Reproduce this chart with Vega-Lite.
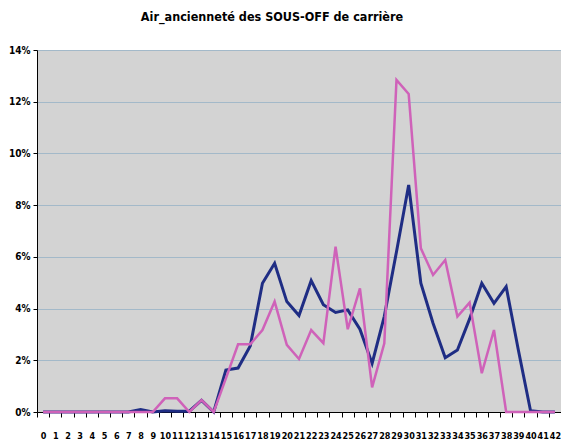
{
  "$schema": "https://vega.github.io/schema/vega-lite/v6.json",
  "width": 524,
  "height": 362,
  "autosize": {"type": "none"},
  "padding": {"left": 37, "top": 50, "right": 0, "bottom": 36},
  "background": "white",
  "title": {
    "text": "Air_ancienneté des SOUS-OFF de carrière",
    "font": "DejaVu Sans Condensed, Liberation Sans, sans-serif",
    "fontSize": 12.5,
    "fontWeight": "bold",
    "color": "#000000",
    "anchor": "middle",
    "dx": -27,
    "offset": 22
  },
  "config": {
    "view": {"fill": "#d3d3d3", "stroke": null}
  },
  "data": {
    "values": [
      {"age": 0, "navy": 0, "rose": 0},
      {"age": 1, "navy": 0, "rose": 0},
      {"age": 2, "navy": 0, "rose": 0},
      {"age": 3, "navy": 0, "rose": 0},
      {"age": 4, "navy": 0, "rose": 0},
      {"age": 5, "navy": 0, "rose": 0},
      {"age": 6, "navy": 0, "rose": 0},
      {"age": 7, "navy": 0, "rose": 0},
      {"age": 8, "navy": 0.1, "rose": 0},
      {"age": 9, "navy": 0, "rose": 0},
      {"age": 10, "navy": 0.05, "rose": 0.53},
      {"age": 11, "navy": 0.03, "rose": 0.53},
      {"age": 12, "navy": 0.03, "rose": 0},
      {"age": 13, "navy": 0.45, "rose": 0.46},
      {"age": 14, "navy": 0, "rose": 0},
      {"age": 15, "navy": 1.62, "rose": 1.3},
      {"age": 16, "navy": 1.7, "rose": 2.62},
      {"age": 17, "navy": 2.55, "rose": 2.62},
      {"age": 18, "navy": 4.98, "rose": 3.17},
      {"age": 19, "navy": 5.75, "rose": 4.27},
      {"age": 20, "navy": 4.27, "rose": 2.6},
      {"age": 21, "navy": 3.73, "rose": 2.05},
      {"age": 22, "navy": 5.08, "rose": 3.17},
      {"age": 23, "navy": 4.15, "rose": 2.66},
      {"age": 24, "navy": 3.85, "rose": 6.39},
      {"age": 25, "navy": 3.95, "rose": 3.2},
      {"age": 26, "navy": 3.2, "rose": 4.78},
      {"age": 27, "navy": 1.88, "rose": 0.95},
      {"age": 28, "navy": 3.7, "rose": 2.66},
      {"age": 29, "navy": 6.2, "rose": 12.84},
      {"age": 30, "navy": 8.78, "rose": 12.3},
      {"age": 31, "navy": 4.98, "rose": 6.33},
      {"age": 32, "navy": 3.43, "rose": 5.3},
      {"age": 33, "navy": 2.1, "rose": 5.88},
      {"age": 34, "navy": 2.4, "rose": 3.69},
      {"age": 35, "navy": 3.6, "rose": 4.23},
      {"age": 36, "navy": 4.98, "rose": 1.5},
      {"age": 37, "navy": 4.2, "rose": 3.17},
      {"age": 38, "navy": 4.85, "rose": 0},
      {"age": 39, "navy": 2.4, "rose": 0},
      {"age": 40, "navy": 0.05, "rose": 0},
      {"age": 41, "navy": 0, "rose": 0},
      {"age": 42, "navy": 0, "rose": 0}
    ]
  },
  "encoding": {
    "x": {
      "field": "age",
      "type": "ordinal",
      "sort": null,
      "scale": {"type": "band", "paddingInner": 0, "paddingOuter": 0},
      "axis": {
        "title": null,
        "labelAngle": 0,
        "labelFont": "DejaVu Sans Condensed, Liberation Sans, sans-serif",
        "labelFontSize": 9,
        "labelFontWeight": "bold",
        "labelColor": "#000000",
        "labelOverlap": false,
        "labelPadding": 14,
        "tickBand": "extent",
        "tickColor": "#000000",
        "tickSize": 5,
        "domainColor": "#000000",
        "domainWidth": 1,
        "grid": false
      }
    }
  },
  "layer": [
    {
      "mark": {"type": "line", "color": "#1f2d84", "strokeWidth": 3},
      "encoding": {
        "y": {
          "field": "navy",
          "type": "quantitative",
          "scale": {"domain": [0, 14], "nice": false},
          "axis": {
            "title": null,
            "values": [0, 2, 4, 6, 8, 10, 12, 14],
            "labelExpr": "datum.value + '%'",
            "labelFont": "DejaVu Sans Condensed, Liberation Sans, sans-serif",
            "labelFontSize": 10,
            "labelFontWeight": "bold",
            "labelColor": "#000000",
            "labelPadding": 3,
            "tickColor": "#000000",
            "tickSize": 4,
            "domainColor": "#000000",
            "domainWidth": 1,
            "grid": true,
            "gridColor": "#a3b9c9",
            "gridWidth": 1
          }
        }
      }
    },
    {
      "mark": {"type": "line", "color": "#cf62b9", "strokeWidth": 2.5},
      "encoding": {
        "y": {"field": "rose", "type": "quantitative"}
      }
    }
  ]
}
